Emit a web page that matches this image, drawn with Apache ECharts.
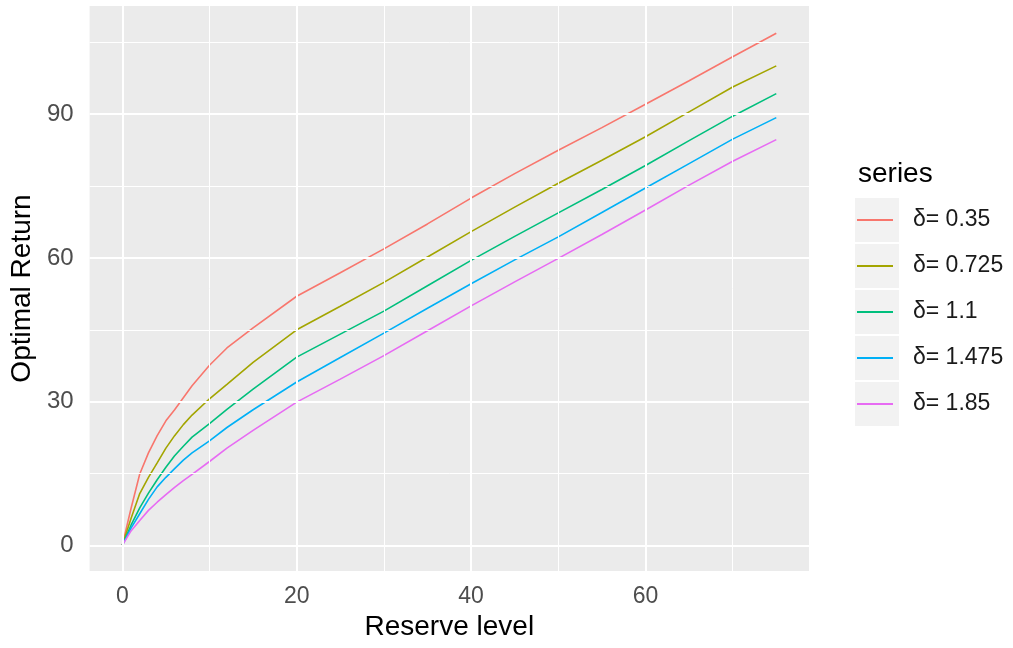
<!DOCTYPE html>
<html>
<head>
<meta charset="utf-8">
<script src="https://cdn.jsdelivr.net/npm/echarts@6/dist/echarts.min.js"></script>
<style>
html,body{margin:0;padding:0;background:#fff;}
#chart{width:1013px;height:648px;}
</style>
</head>
<body>
<div id="chart"></div>
<script>
// ---- data ----
var reserve = [0,1,2,3,4,5,6,7,8,10,12,15,20,25,30,35,40,45,50,55,60,65,70,75];
var seriesNames = ['δ= 0.35','δ= 0.725','δ= 1.1','δ= 1.475','δ= 1.85'];
var d035  = [0,7.7,14.9,19.3,22.9,26.0,28.3,30.8,33.3,37.6,41.2,45.4,52.0,56.9,61.9,67.1,72.5,77.6,82.5,87.2,92.1,97.0,102.0,106.9];
var d0725 = [0,5.6,10.8,14.2,17.2,20.3,22.9,25.2,27.2,30.6,33.6,38.2,45.0,49.9,54.9,60.2,65.5,70.6,75.6,80.4,85.3,90.5,95.7,100.1];
var d11   = [0,4.2,7.8,10.9,13.7,16.3,18.7,20.7,22.6,25.4,28.4,32.6,39.3,44.1,48.9,54.2,59.5,64.5,69.4,74.3,79.3,84.5,89.6,94.3];
var d1475 = [0,3.6,6.6,9.6,12.2,14.2,16.0,17.8,19.3,21.8,24.6,28.3,34.1,39.2,44.3,49.5,54.6,59.6,64.4,69.5,74.6,79.7,84.8,89.3];
var d185  = [0,3.0,5.2,7.3,9.0,10.6,12.1,13.5,14.8,17.5,20.3,24.0,29.9,34.7,39.6,44.8,50.0,55.0,59.9,64.9,70.0,75.2,80.2,84.7];
var xTicks = [0,20,40,60];
var xMinor = [10,30,50,70];
var yTicks = [0,30,60,90];
var yMinor = [15,45,75,105];

// ---- styling ----
var colors = ['#F8766D','#A3A500','#00BF7D','#00B0F6','#E76BF3'];
var FONT = 'Liberation Sans, Arial, sans-serif';
var allData = [d035,d0725,d11,d1475,d185];

var chart = echarts.init(document.getElementById('chart'), null, {renderer:'canvas'});

var gridLines = [];
xTicks.forEach(function(v){ gridLines.push({xAxis:v, lineStyle:{width:2}}); });
xMinor.forEach(function(v){ gridLines.push({xAxis:v, lineStyle:{width:1}}); });
yTicks.forEach(function(v){ gridLines.push({yAxis:v, lineStyle:{width:2}}); });
yMinor.forEach(function(v){ gridLines.push({yAxis:v, lineStyle:{width:1}}); });

var series = [{
  type:'line', name:'_grid', data:[], z:1, silent:true,
  markLine:{silent:true, symbol:['none','none'], label:{show:false}, animation:false,
    lineStyle:{color:'#FFFFFF', type:'solid'}, data:gridLines}
}];
seriesNames.forEach(function(n,i){
  series.push({
    type:'line', name:n, z:3,
    data: reserve.map(function(x,k){ return [x, allData[i][k]]; }),
    showSymbol:false, symbol:'none', smooth:false,
    lineStyle:{color:colors[i], width:1.6},
    itemStyle:{color:colors[i]}
  });
});

var keyRects = seriesNames.map(function(n,i){
  return {type:'rect', left:855, top:198 + 46*i, shape:{width:44,height:44}, style:{fill:'#F2F2F2'}, z:-1};
});

chart.setOption({
  animation:false,
  backgroundColor:'#FFFFFF',
  title:{text:'series', left:853, top:155, textStyle:{fontFamily:FONT, fontSize:28, fontWeight:'normal', color:'#000'}},
  graphic: keyRects,
  legend:{
    orient:'vertical', left:857, top:198, padding:0, itemGap:2,
    itemWidth:36, itemHeight:2, icon:'rect', selectedMode:false,
    data: seriesNames,
    textStyle:{fontFamily:FONT, fontSize:23, color:'#1A1A1A', lineHeight:44, height:44, padding:[0,0,0,15]}
  },
  grid:{left:86, right:204, top:6, bottom:77, show:true, backgroundColor:'#EBEBEB', borderWidth:0, containLabel:false},
  xAxis:{
    type:'value', min:-3.75, max:78.75,
    name:'Reserve level', nameLocation:'middle', nameGap:42,
    nameTextStyle:{fontFamily:FONT, fontSize:28, color:'#000'},
    axisLine:{show:false},
    axisTick:{show:true, length:7, customValues:xTicks, lineStyle:{color:'#333333', width:1}},
    axisLabel:{customValues:xTicks, margin:14, fontFamily:FONT, fontSize:23, color:'#4D4D4D'},
    splitLine:{show:false}
  },
  yAxis:{
    type:'value', min:-5.36, max:112.6,
    name:'Optimal Return', nameLocation:'middle', nameGap:52, nameRotate:90,
    nameTextStyle:{fontFamily:FONT, fontSize:28, color:'#000'},
    axisLine:{show:false},
    axisTick:{show:true, length:7, customValues:yTicks, lineStyle:{color:'#333333', width:1}},
    axisLabel:{customValues:yTicks, margin:16, fontFamily:FONT, fontSize:24, color:'#4D4D4D'},
    splitLine:{show:false}
  },
  series: series
});
</script>
</body>
</html>
